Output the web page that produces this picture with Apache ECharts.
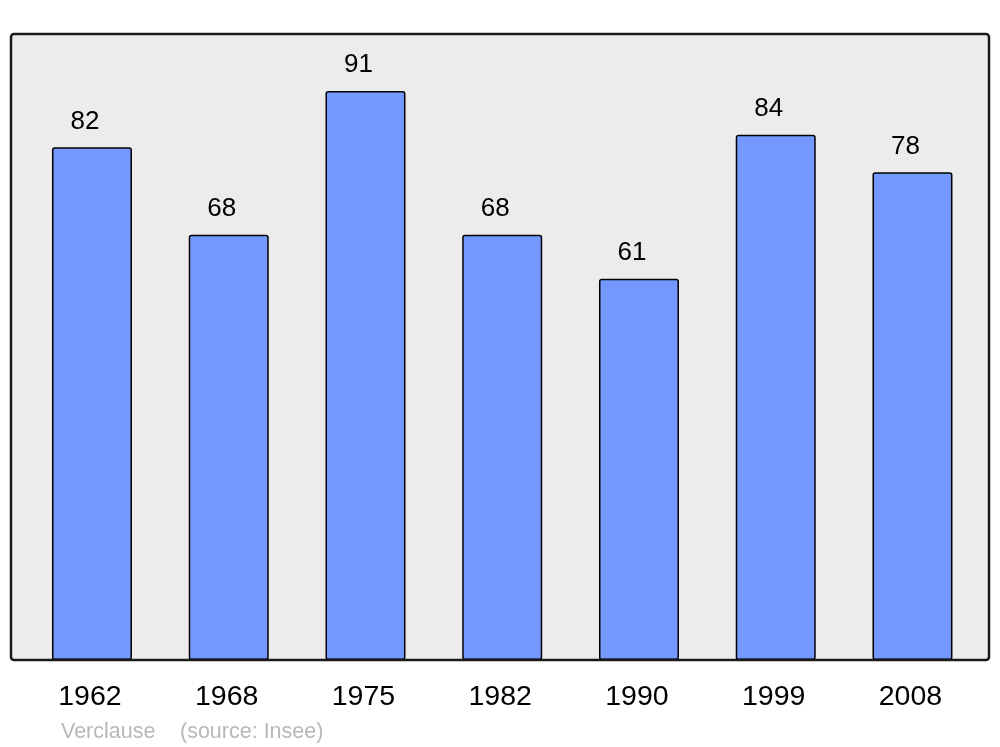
<!DOCTYPE html>
<html>
<head>
<meta charset="utf-8">
<script src="https://cdn.jsdelivr.net/npm/echarts@6/dist/echarts.min.js"></script>
<style>html,body{margin:0;padding:0;background:#fff;}#c{width:1000px;height:747px;}</style>
</head>
<body>
<div id="c"></div>
<script>
const years = ['1962','1968','1975','1982','1990','1999','2008'];
const population = [82, 68, 91, 68, 61, 84, 78];
const footerAuthor = 'Verclause';
const footerSource = '(source: Insee)';

const chart = echarts.init(document.getElementById('c'), null, {renderer: 'canvas'});
const font = '"Liberation Sans", Arial, sans-serif';
chart.setOption({
  animation: false,
  backgroundColor: '#ffffff',
  grid: {left: 23.6, width: 957.25, top: 34.8, bottom: 87},
  xAxis: {
    type: 'category', data: years,
    axisLine: {show: false}, axisTick: {show: false},
    axisLabel: {color: '#000', fontSize: 28.5, fontFamily: font, margin: 23, padding: [0, 4, 0, 0]}
  },
  yAxis: {type: 'value', min: 0, max: 100, show: false, splitLine: {show: false}},
  graphic: [
    {type: 'rect', z: 0, shape: {x: 11, y: 34, width: 978, height: 626, r: 3},
     style: {fill: '#ececec', stroke: null}},
    {type: 'rect', z: 10, shape: {x: 11, y: 34, width: 978, height: 626, r: 3},
     style: {fill: null, stroke: '#1a1a1a', lineWidth: 2.5}},
    {type: 'text', z: 10, left: 61, top: 721,
     style: {text: footerAuthor, fill: '#b8b8b8', font: '21.5px ' + font}},
    {type: 'text', z: 10, left: 180, top: 721,
     style: {text: footerSource, fill: '#b8b8b8', font: '21.5px ' + font}}
  ],
  series: [{
    type: 'bar', data: population, barWidth: 80, z: 5,
    itemStyle: {color: '#7399ff', borderColor: '#000', borderWidth: 1.5, borderRadius: 2},
    label: {show: true, position: 'top', distance: 13, offset: [-7, 0], color: '#000', fontSize: 26, fontFamily: font}
  }]
});
</script>
</body>
</html>
